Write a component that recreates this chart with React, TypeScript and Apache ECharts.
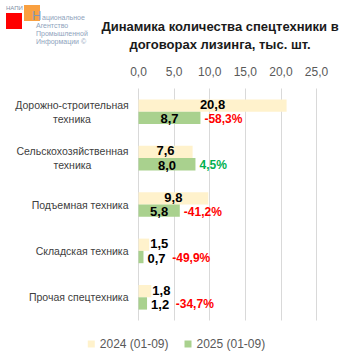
import React, { useEffect, useRef } from "react";
import * as echarts from "echarts";

const categories = [
  "Дорожно-строительная\nтехника",
  "Сельскохозяйственная\nтехника",
  "Подъемная техника",
  "Складская техника",
  "Прочая спецтехника",
];
const values2024 = [20.8, 7.6, 9.8, 1.5, 1.8];
const values2025 = [8.7, 8.0, 5.8, 0.7, 1.2];
const changePct = [-58.3, 4.5, -41.2, -49.9, -34.7];
const xTicks = [0, 5, 10, 15, 20, 25];
const seriesNames = ["2024 (01-09)", "2025 (01-09)"];

const FONT = "'Liberation Sans', Arial, sans-serif";
const SMALL = 3;
const fmt = (v: number) => v.toFixed(1).replace(".", ",");

function textWidth(t: string, size: number) {
  let w = 0;
  try {
    const el = new (echarts.graphic as any).Text({ style: { text: t, fontSize: size, fontFamily: FONT } });
    w = el.getBoundingRect().width;
  } catch (e) {
    w = 0;
  }
  if (!(w > 1)) {
    const c = document.createElement("canvas").getContext("2d");
    if (c) {
      c.font = `${size}px ${FONT}`;
      w = c.measureText(t).width;
    }
  }
  if (!(w > 1)) w = t.length * size * 0.53;
  return w;
}

export default function App() {
  const ref = useRef<HTMLDivElement>(null);
  useEffect(() => {
    if (!ref.current) return;
    const chart = echarts.init(ref.current, undefined, { renderer: "svg" });
    const catFont = 10.5;
    const valueLabel = { fontSize: 13, fontWeight: "bold" as const, color: "#000", fontFamily: FONT, lineHeight: 12 };
    const d2024 = values2024.map((v) => ({
      value: v,
      label: v < SMALL ? { position: "right", distance: 1, offset: [0, -1] } : { position: "inside", offset: [0, -1] },
    }));
    const d2025 = values2025.map((v) => ({
      value: v,
      label: v < SMALL ? { show: false } : { show: true, position: "inside", offset: [0, 1] },
    }));
    const dPct = values2025.map(() => 0);
    const yData = categories.map((name) => {
      const lines = name.split("\n");
      if (lines.length === 1) return name;
      const w1 = textWidth(lines[0], catFont);
      return { value: name, textStyle: { align: "center", padding: [0, Math.round(w1), 0, 0] } };
    });
    chart.setOption({
      animation: false,
      title: {
        text: "Динамика количества спецтехники в\nдоговорах лизинга, тыс. шт.",
        left: 215,
        top: 12,
        textAlign: "center",
        textStyle: { fontSize: 13, fontWeight: "bold", color: "#1a1a1a", fontFamily: FONT, lineHeight: 18 },
      },
      legend: {
        data: seriesNames,
        top: 333,
        left: "center",
        icon: "rect",
        itemWidth: 7,
        itemHeight: 7,
        itemGap: 16,
        textStyle: { fontSize: 12, color: "#595959", fontFamily: FONT },
      },
      grid: { left: 138.5, right: 36.5, top: 88.5, bottom: 32.5 },
      xAxis: {
        type: "value",
        position: "top",
        min: xTicks[0],
        max: xTicks[xTicks.length - 1],
        interval: xTicks[1] - xTicks[0],
        axisLine: { show: false },
        axisTick: { show: false },
        axisLabel: { formatter: (v: number) => fmt(v), fontSize: 12, color: "#595959", fontFamily: FONT, margin: 11 },
        splitLine: { lineStyle: { color: "#D9D9D9", width: 1 } },
      },
      yAxis: {
        type: "category",
        inverse: true,
        data: yData,
        axisLine: { show: false },
        axisTick: { show: false },
        axisLabel: {
          margin: 10,
          color: "#404040",
          fontFamily: FONT,
          fontSize: catFont,
          lineHeight: 14,
        },
      },
      series: [
        {
          name: seriesNames[0],
          type: "bar",
          data: d2024,
          barWidth: 12.3,
          itemStyle: { color: "#FFF2CC" },
          label: { show: true, formatter: (p: any) => fmt(p.value), ...valueLabel },
        },
        {
          name: seriesNames[1],
          type: "bar",
          stack: "y25",
          data: d2025,
          barWidth: 12.3,
          barGap: 0,
          itemStyle: { color: "#A9D18E" },
          label: { show: true, formatter: (p: any) => fmt(p.value), ...valueLabel },
        },
        {
          name: "pct",
          type: "bar",
          stack: "y25",
          data: dPct,
          barWidth: 12.3,
          barGap: 0,
          itemStyle: { color: "transparent" },
          label: {
            show: true,
            position: "right",
            distance: 4,
            offset: [0, 1],
            formatter: (p: any) => {
              const i = p.dataIndex;
              const c = changePct[i];
              const t = fmt(c) + "%";
              const tag = c < 0 ? "r" : "g";
              if (values2025[i] < SMALL) return `{v|${fmt(values2025[i])}}  {${tag}|${t}}`;
              return `{${tag}|${t}}`;
            },
            rich: {
              v: { ...valueLabel },
              r: { fontSize: 12, fontWeight: "bold", color: "#FF0000", fontFamily: FONT, lineHeight: 12 },
              g: { fontSize: 12, fontWeight: "bold", color: "#00B050", fontFamily: FONT, lineHeight: 12 },
            },
          },
        },
      ],
      graphic: [
        { type: "rect", shape: { x: 6, y: 13, width: 16, height: 16 }, style: { fill: "#FF0000" } },
        { type: "rect", shape: { x: 24, y: 5, width: 16, height: 16 }, style: { fill: "#F9A040" } },
        { type: "text", x: 6, y: 5, style: { text: "НАПИ", fontSize: 6, fill: "#7F8FA6", fontFamily: FONT } },
        { type: "text", x: 32, y: 9, style: { text: "Н", fontSize: 13, fill: "#8497B0", fontFamily: FONT } },
        { type: "text", x: 42, y: 14, style: { text: "ациональное", fontSize: 7, fill: "#8EA3BC", fontFamily: FONT } },
        { type: "text", x: 36, y: 22, style: { text: "Агентство", fontSize: 7, fill: "#8EA3BC", fontFamily: FONT } },
        { type: "text", x: 36, y: 30, style: { text: "Промышленной", fontSize: 7, fill: "#8EA3BC", fontFamily: FONT } },
        { type: "text", x: 36, y: 38, style: { text: "Информации ©", fontSize: 7, fill: "#8EA3BC", fontFamily: FONT } },
      ],
    });
    return () => chart.dispose();
  }, []);
  return <div ref={ref} style={{ position: "absolute", left: 0, top: 0, width: 353, height: 353 }} />;
}
